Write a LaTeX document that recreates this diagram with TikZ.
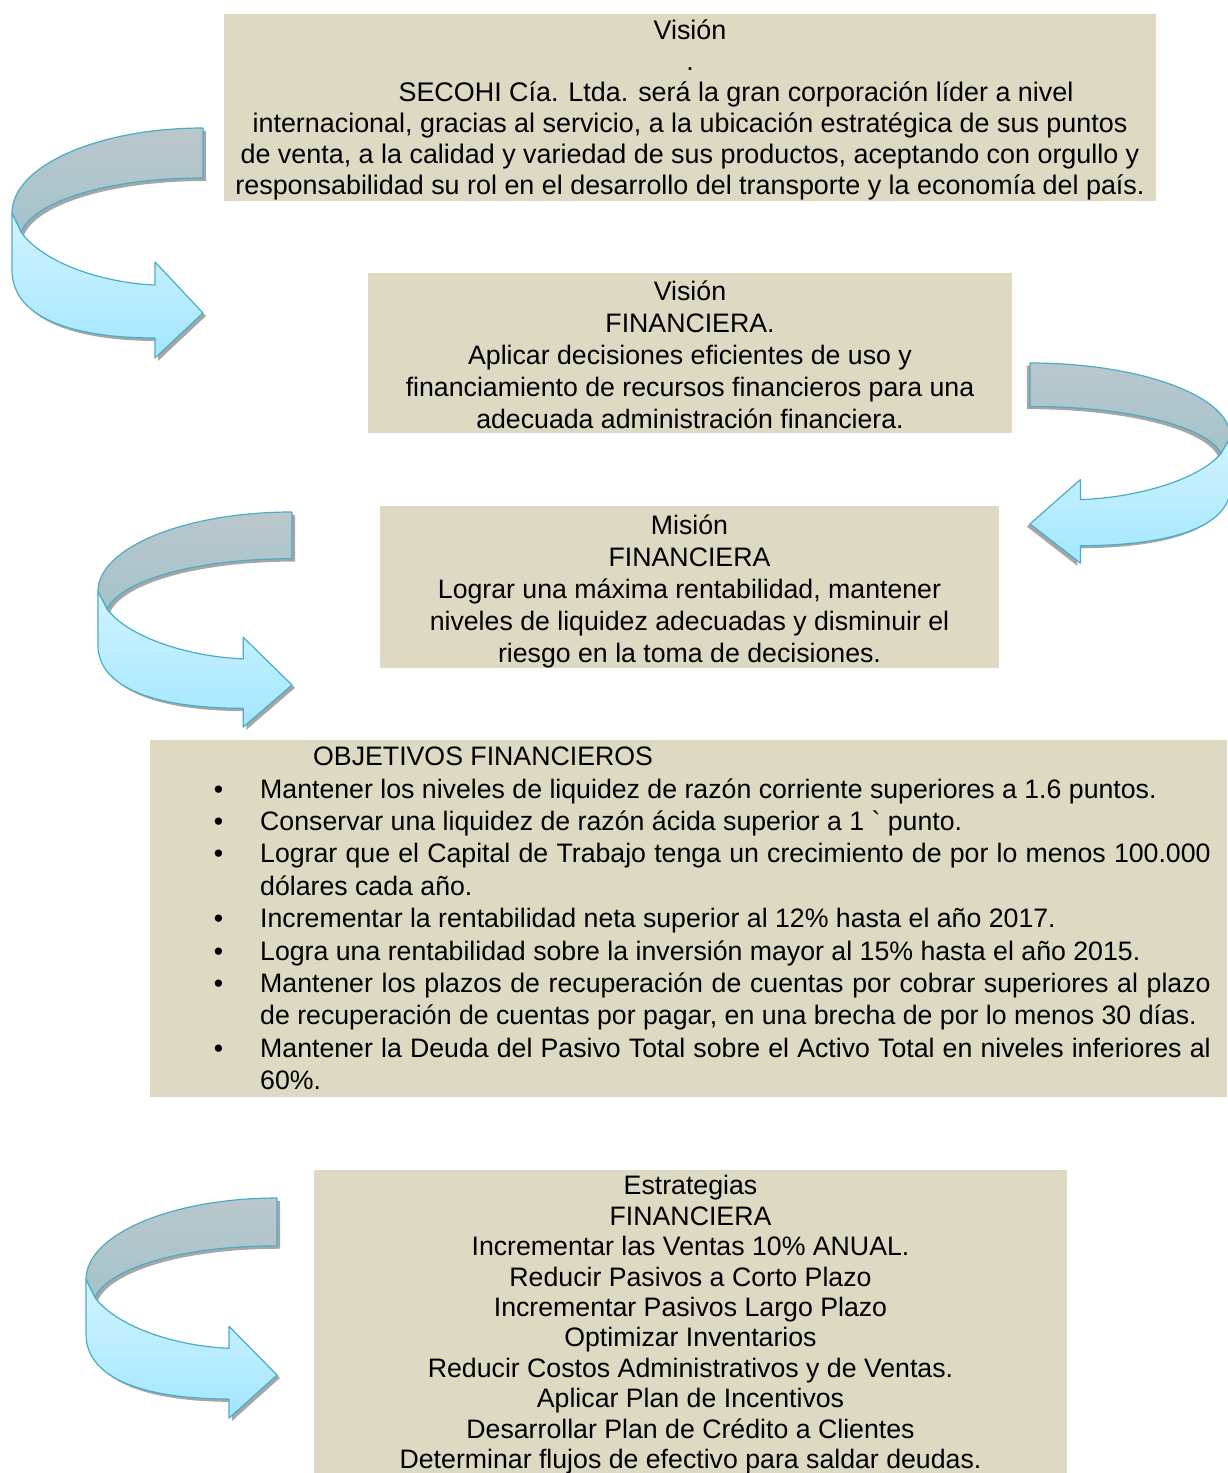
\documentclass[tikz,border=0pt]{standalone}
\usepackage{fontspec}
\setmainfont{Liberation Sans}
\usepackage{enumitem}
\usetikzlibrary{calc}

\definecolor{caja}{RGB}{221,217,195}
\definecolor{borde}{RGB}{75,172,198}
\definecolor{atrasA}{RGB}{186,199,204}
\definecolor{atrasB}{RGB}{164,195,203}
\definecolor{frenteA}{RGB}{210,243,255}
\definecolor{frenteB}{RGB}{163,231,255}

\begin{document}
\begin{tikzpicture}[x=1pt,y=-1pt,
  caja/.style={fill=caja,inner sep=0pt,align=center,font=\fontsize{26.7}{32}\selectfont},
  vuelta/.pic={
    \fill[black!35,shift={(3,3)}] (0,0) -- (0,50) .. controls (-100,50) and (-170,75) .. (-182,104)
      .. controls (-160,135) and (-100,155) .. (-48,157) -- (-48,134) -- (0,185) -- (-48,230) -- (-48,210)
      .. controls (-130,210) and (-191,190) .. (-191,142) -- (-191,85) .. controls (-191,38) and (-105,0) .. cycle;
    \shade[top color=atrasA,bottom color=atrasB,draw=borde,line width=1.2pt,line join=round]
      (0,0) -- (0,50) .. controls (-100,50) and (-170,75) .. (-182,104) -- (-191,85)
      .. controls (-191,38) and (-105,0) .. cycle;
    \shade[top color=frenteA,bottom color=frenteB,draw=borde,line width=1.2pt,line join=round]
      (-191,85) -- (-182,104) .. controls (-160,135) and (-100,155) .. (-48,157) -- (-48,134) -- (0,185)
      -- (-48,230) -- (-48,210) .. controls (-130,210) and (-191,190) .. (-191,142) -- cycle;
  }]
\useasboundingbox (0,0) rectangle (1227,1473);

\node[caja,minimum width=932,minimum height=187,font=\fontsize{26.9}{31}\selectfont] (vision) at (690,107.5)
  {\rule{0pt}{25pt}Visión\\.\\\hspace*{92pt}SECOHI Cía. Ltda. será la gran corporación líder a nivel\\
   internacional, gracias al servicio, a la ubicación estratégica de sus puntos\\
   de venta, a la calidad y variedad de sus productos, aceptando con orgullo y\\
   responsabilidad su rol en el desarrollo del transporte y la economía del país.};

\node[caja,minimum width=644,minimum height=160] (visionfin) at (690,353)
  {\rule{0pt}{24pt}Visión\\FINANCIERA.\\Aplicar decisiones eficientes de uso y\\
   financiamiento de recursos financieros para una\\adecuada administración financiera.};

\node[caja,minimum width=619,minimum height=160] (misionfin) at (689.5,587)
  {\rule{0pt}{28pt}Misión\\FINANCIERA\\Lograr una máxima rentabilidad, mantener\\
   niveles de liquidez adecuadas y disminuir el\\riesgo en la toma de decisiones.};

\node[caja,anchor=west,minimum width=1077,minimum height=357,text width=1044,inner xsep=16.5pt,
  align=justify,font=\fontsize{26.7}{32.4}\selectfont] (objetivos) at (150,918.5)
  {\hspace*{146.5pt}OBJETIVOS FINANCIEROS
   \begin{itemize}[leftmargin=93.5pt,labelsep=37pt,itemsep=0pt,topsep=0pt,parsep=0pt,partopsep=0pt]
   \item Mantener los niveles de liquidez de razón corriente superiores a 1.6 puntos.
   \item Conservar una liquidez de razón ácida superior a 1 \textasciigrave{} punto.
   \item Lograr que el Capital de Trabajo tenga un crecimiento de por lo menos 100.000\linebreak
     dólares cada año.
   \item Incrementar la rentabilidad neta superior al 12\% hasta el año 2017.
   \item Logra una rentabilidad sobre la inversión mayor al 15\% hasta el año 2015.
   \item Mantener los plazos de recuperación de cuentas por cobrar superiores al plazo\linebreak
     de recuperación de cuentas por pagar, en una brecha de por lo menos 30 días.
   \item Mantener la Deuda del Pasivo Total sobre el Activo Total en niveles inferiores al\linebreak
     60\%.
   \end{itemize}};

\node[caja,minimum width=753,minimum height=307,font=\fontsize{26.7}{30.4}\selectfont] (estrategias) at (690.5,1323.5)
  {\rule{0pt}{22pt}Estrategias\\FINANCIERA\\Incrementar las Ventas 10\% ANUAL.\\Reducir Pasivos a Corto Plazo\\
   Incrementar Pasivos Largo Plazo\\Optimizar Inventarios\\Reducir Costos Administrativos y de Ventas.\\
   Aplicar Plan de Incentivos\\Desarrollar Plan de Crédito a Clientes\\
   Determinar flujos de efectivo para saldar deudas.};

\pic at (203,128) {vuelta};
\pic[xscale=-1.05,yscale=0.87] at (1030,363) {vuelta};
\pic[xscale=1.016,yscale=0.935] at (292,512) {vuelta};
\pic[yscale=0.957] at (277,1198) {vuelta};

\end{tikzpicture}
\end{document}
